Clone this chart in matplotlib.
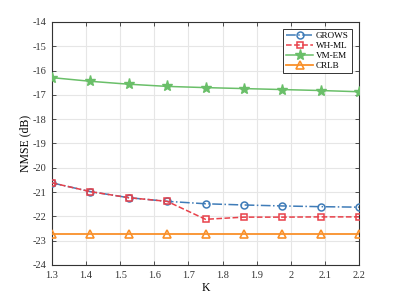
import numpy as np
import matplotlib
matplotlib.use("Agg")
import matplotlib.pyplot as plt

plt.rcParams['font.family'] = ['Liberation Serif', 'DejaVu Serif']
plt.rcParams['axes.unicode_minus'] = False

k_values = np.linspace(1.3, 2.2, 9)
grows = [-20.62, -20.98, -21.23, -21.38, -21.48, -21.53, -21.57, -21.60, -21.62]
wh_ml = [-20.62, -20.98, -21.23, -21.38, -22.12, -22.03, -22.03, -22.02, -22.02]
vm_em = [-16.29, -16.44, -16.56, -16.65, -16.70, -16.74, -16.78, -16.82, -16.87]
crlb = [-22.72] * 9

y_ticks = list(range(-24, -13))
x_ticks = [1.3, 1.4, 1.5, 1.6, 1.7, 1.8, 1.9, 2.0, 2.1, 2.2]
x_tick_labels = ['1.3', '1.4', '1.5', '1.6', '1.7', '1.8', '1.9', '2', '2.1', '2.2']

fig = plt.figure(figsize=(3.97, 2.97), dpi=100)
ax = fig.add_axes([52 / 397, 1 - 265 / 297, (359 - 52) / 397, (265 - 22) / 297])

ax.plot(k_values, grows, color='#3f7cb8', linestyle='-.', linewidth=1.1,
        marker='o', markersize=5, markerfacecolor='none', markeredgewidth=1.1,
        label='GROWS', zorder=4)
ax.plot(k_values, wh_ml, color='#e8414a', linestyle='--', linewidth=1.1,
        marker='s', markersize=5, markerfacecolor='none', markeredgewidth=1.1,
        label='WH-ML', zorder=5)
ax.plot(k_values, vm_em, color='#6abf69', linestyle='-', linewidth=1.1,
        marker='*', markersize=8, label='VM-EM', zorder=3)
ax.plot(k_values, crlb, color='#f9902a', linestyle='-', linewidth=1.3,
        marker='^', markersize=6, markerfacecolor='none', markeredgewidth=1.2,
        label='CRLB', zorder=3)

ax.set_xlim(1.3, 2.2)
ax.set_ylim(-24, -14)
ax.set_xticks(x_ticks)
ax.set_xticklabels(x_tick_labels)
ax.set_yticks(y_ticks)
ax.set_yticklabels([str(t) for t in y_ticks])
ax.tick_params(direction='in', labelsize=7.5, length=3, width=0.6, colors='#333333',
               top=True, right=True, pad=4)
ax.grid(True, color='#e6e6e6', linewidth=0.8)
ax.set_axisbelow(True)
for spine in ax.spines.values():
    spine.set_linewidth(0.8)
    spine.set_color('#333333')

ax.set_xlabel('K', fontsize=8.5, labelpad=2)
ax.set_ylabel('NMSE (dB)', fontsize=8.5, labelpad=1)

leg = ax.legend(loc='upper right', fontsize=6.6, frameon=True, fancybox=False,
                edgecolor='#333333', framealpha=1, borderpad=0.3,
                labelspacing=0.15, handlelength=3, handletextpad=0.3,
                borderaxespad=0.8)
leg.get_frame().set_linewidth(0.7)

fig.savefig('out.png', dpi=100)
